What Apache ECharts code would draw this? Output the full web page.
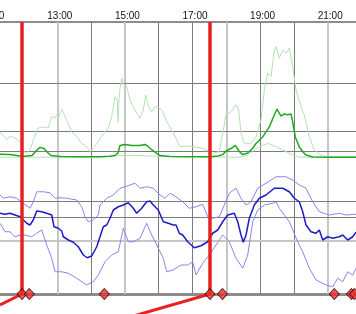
<!DOCTYPE html>
<html><head><meta charset="utf-8">
<script src="https://cdn.jsdelivr.net/npm/echarts@6/dist/echarts.min.js"></script>
<style>html,body{margin:0;padding:0;background:#fff;overflow:hidden}#c{width:356px;height:314px}</style>
</head><body><div id="c"></div>
<script>
// ---- data (hour of day, value) ----
const lightGridHours = [13, 15, 18, 21];
const darkGridHours = [14, 16, 17, 19, 20];
const greenGridValues = [5, 20, 57];
const blueGridValues = [37.3, 30.8];
const blueLightGridValues = [21.2];

const greenMean = [[11.305,2.5],[11.601,2.3],[11.897,1.2],[12.045,1.0],[12.252,1.5],[12.370,5.0],[12.488,7.8],[12.607,6.9],[12.696,4.2],[12.814,1.5],[13.080,0.8],[13.672,0.5],[14.264,0.5],[14.559,0.9],[14.707,1.5],[14.796,3.5],[14.855,9.2],[15.003,10.0],[15.210,9.2],[15.447,9.2],[15.595,10.0],[15.684,8.5],[15.802,5.8],[15.920,3.5],[16.039,1.5],[16.335,0.8],[16.926,0.6],[17.518,0.6],[17.755,1.2],[17.894,2.2],[17.992,5.0],[18.139,6.9],[18.267,9.4],[18.385,4.6],[18.486,2.2],[18.634,3.5],[18.761,6.5],[18.879,10.8],[19.077,15.8],[19.273,23.5],[19.382,30.4],[19.500,37.3],[19.619,31.9],[19.716,33.5],[19.817,32.9],[19.915,33.5],[19.965,27.3],[20.042,15.8],[20.160,8.1],[20.269,4.2],[20.358,1.9],[20.556,0.4],[21.068,0.2],[21.837,0.2]];

const greenMax = [[11.305,19.1],[11.394,17.3],[11.512,13.5],[11.601,16.5],[11.749,15.0],[11.897,12.2],[11.956,8.3],[11.994,4.5],[12.103,3.8],[12.192,5.8],[12.290,13.5],[12.438,22.7],[12.577,23.5],[12.725,22.7],[12.835,31.4],[12.932,30.4],[12.983,32.7],[13.030,30.4],[13.130,37.1],[13.278,28.8],[13.426,19.8],[13.574,16.0],[13.722,10.9],[13.870,8.3],[13.968,4.5],[14.065,7.1],[14.213,12.2],[14.361,18.6],[14.509,22.5],[14.610,31.4],[14.707,46.8],[14.775,44.2],[14.796,27.5],[14.826,44.2],[14.855,53.2],[14.906,60.9],[14.974,55.8],[15.054,54.5],[15.151,44.2],[15.249,39.1],[15.349,34.0],[15.447,30.2],[15.545,36.5],[15.616,48.1],[15.693,39.1],[15.793,35.2],[15.891,39.1],[15.988,38.6],[16.089,36.5],[16.237,27.5],[16.385,21.2],[16.533,13.5],[16.630,8.3],[16.778,8.8],[17.006,8.3],[17.302,7.1],[17.598,3.2],[17.793,4.5],[17.894,18.6],[17.992,32.7],[18.139,35.2],[18.287,40.4],[18.367,36.5],[18.435,18.6],[18.533,10.9],[18.731,10.9],[18.879,16.0],[19.027,28.8],[19.125,51.9],[19.225,64.8],[19.323,62.2],[19.420,82.7],[19.471,85.2],[19.568,76.3],[19.669,82.7],[19.767,80.2],[19.864,84.0],[19.965,69.8],[20.062,51.9],[20.211,39.1],[20.308,32.7],[20.456,16.0],[20.604,5.8],[20.752,2.5],[20.921,0.6],[21.837,0.5]];

const greenMin = [[11.305,0.2],[14.264,0.4],[14.855,1.5],[15.447,1.5],[16.039,0.8],[18.406,0.2],[18.634,1.9],[18.977,8.3],[19.225,10.9],[19.471,8.3],[19.767,4.5],[19.965,1.9],[20.180,0.2],[21.837,0.2]];

const blueMean = [[11.305,32.3],[11.453,31.9],[11.601,32.3],[11.749,31.6],[11.897,30.9],[11.994,29.6],[12.095,28.3],[12.192,27.6],[12.290,29.6],[12.391,33.2],[12.539,32.9],[12.687,32.3],[12.835,31.6],[12.903,26.9],[13.030,26.3],[13.130,25.2],[13.178,22.9],[13.326,21.6],[13.474,20.7],[13.622,18.9],[13.769,15.6],[13.888,14.5],[14.018,15.2],[14.166,18.9],[14.264,22.9],[14.361,26.9],[14.462,27.6],[14.559,30.3],[14.657,33.6],[14.805,34.9],[14.953,35.6],[15.101,36.5],[15.249,34.3],[15.349,32.3],[15.497,34.3],[15.645,36.9],[15.743,37.2],[15.841,35.6],[15.988,33.6],[16.136,28.9],[16.284,28.3],[16.432,27.6],[16.512,27.6],[16.610,24.3],[16.710,23.6],[16.858,20.9],[17.053,18.5],[17.252,19.3],[17.450,20.9],[17.598,24.3],[17.746,25.6],[17.894,28.9],[18.042,31.6],[18.237,32.3],[18.338,28.9],[18.435,23.6],[18.503,20.7],[18.583,23.6],[18.681,30.3],[18.829,35.6],[18.977,38.3],[19.175,39.6],[19.420,42.3],[19.669,42.3],[19.864,40.9],[20.012,38.3],[20.160,36.9],[20.261,32.9],[20.358,27.6],[20.506,24.9],[20.654,24.3],[20.752,25.6],[20.852,21.6],[21.000,22.9],[21.148,22.3],[21.344,22.9],[21.444,23.6],[21.592,21.6],[21.740,22.9],[21.837,24.7]];

const blueMax = [[11.305,39.6],[11.403,38.3],[11.601,38.9],[11.799,38.3],[11.994,36.3],[12.192,34.3],[12.290,36.9],[12.391,40.9],[12.586,40.9],[12.784,40.5],[12.932,38.3],[13.080,38.5],[13.278,38.3],[13.574,37.6],[13.722,34.9],[13.820,30.9],[13.917,28.9],[14.065,29.6],[14.213,31.6],[14.264,35.6],[14.462,38.3],[14.657,39.6],[14.855,42.3],[15.003,42.9],[15.151,43.6],[15.299,44.3],[15.447,42.3],[15.645,42.9],[15.841,42.3],[16.039,39.6],[16.187,38.3],[16.335,40.3],[16.512,38.9],[16.710,36.9],[16.906,34.3],[17.104,34.9],[17.302,35.9],[17.450,30.9],[17.598,30.3],[17.793,30.9],[17.941,35.6],[18.089,40.3],[18.287,42.3],[18.435,38.3],[18.583,35.6],[18.731,36.9],[18.929,42.3],[19.175,44.3],[19.471,46.9],[19.767,46.9],[19.965,45.6],[20.160,43.6],[20.358,42.3],[20.556,36.9],[20.752,32.9],[21.047,31.6],[21.344,32.3],[21.542,31.6],[21.837,31.9]];

const blueMin = [[11.305,28.3],[11.453,24.9],[11.601,24.9],[11.749,22.9],[11.897,23.6],[12.045,23.6],[12.243,22.9],[12.391,24.3],[12.539,25.6],[12.687,19.6],[12.835,14.3],[12.932,8.9],[13.130,8.9],[13.326,8.3],[13.574,6.3],[13.870,3.6],[14.065,4.9],[14.213,7.6],[14.412,12.9],[14.610,15.6],[14.805,16.9],[14.953,26.3],[15.101,20.9],[15.249,20.9],[15.447,22.3],[15.645,28.3],[15.793,23.6],[15.941,19.6],[16.136,14.3],[16.237,8.9],[16.432,9.6],[16.660,11.6],[16.858,11.6],[17.006,12.9],[17.104,7.6],[17.302,12.3],[17.497,15.6],[17.696,19.6],[17.894,23.6],[18.089,20.9],[18.287,14.3],[18.486,10.3],[18.634,15.6],[18.781,28.9],[18.929,33.6],[19.125,35.6],[19.373,36.3],[19.471,36.9],[19.568,34.3],[19.864,28.9],[20.113,20.9],[20.261,16.9],[20.456,10.3],[20.654,5.6],[20.950,3.6],[21.148,2.9],[21.296,6.3],[21.444,4.9],[21.592,8.9],[21.740,7.6],[21.837,10.3]];

const redEventHours = [11.956, 12.172, 14.391, 17.518, 17.888, 21.195, 21.704, 21.793];
const markerHours = [11.956, 17.518];
const redRampA = [[11.305,-4.4],[11.956,0]];
const redRampB = [[11.956,-21.6],[17.518,0]];

// ---- chart ----
const chart = echarts.init(document.getElementById('c'), null, {renderer: 'canvas'});
const lineS = (data, color, width, yIdx, z) => ({
  type: 'line', data, xAxisIndex: 0, yAxisIndex: yIdx, showSymbol: false, symbol: 'none',
  lineStyle: {color, width}, silent: true, z, animation: false
});
const vGrid = lightGridHours.map(h => ({xAxis: h, lineStyle: {color: '#c6c6c6', width: 2, type: 'solid'}}))
  .concat(darkGridHours.map(h => ({xAxis: h, lineStyle: {color: '#7c7c7c', width: 1, type: 'solid'}})));
const gGrid = greenGridValues.map(v => ({yAxis: v, lineStyle: {color: '#7c7c7c', width: 1, type: 'solid'}}));
const bGrid = blueGridValues.map(v => ({yAxis: v, lineStyle: {color: '#7c7c7c', width: 1, type: 'solid'}}))
  .concat(blueLightGridValues.map(v => ({yAxis: v, lineStyle: {color: '#c6c6c6', width: 2, type: 'solid'}})));

const gm = lineS(greenMin, '#b4e2b4', 1, 0, 2);
gm.markLine = {silent: true, symbol: 'none', z: 1, label: {show: false}, animation: false, data: vGrid.concat(gGrid)};
const bmx = lineS(blueMax, '#8686ee', 1, 1, 2);
bmx.markLine = {silent: true, symbol: 'none', z: 1, label: {show: false}, animation: false, data: bGrid};
const rA = lineS(redRampA, '#e82020', 3, 1, 6);
rA.clip = false;
rA.markLine = {silent: true, symbol: 'none', z: 6, label: {show: false}, animation: false,
  data: markerHours.map(h => ({xAxis: h})), lineStyle: {color: '#e82020', width: 3.5, type: 'solid'}};
const rB = lineS(redRampB, '#e82020', 3, 1, 6);
rB.clip = false;

chart.setOption({
  animation: false,
  grid: {left: -10.3, right: -5.5, top: 22, bottom: 20, containLabel: false, outerBoundsMode: 'none'},
  xAxis: [
    {type: 'value', position: 'top', min: 11, max: 22, interval: 1,
     axisLine: {onZero: false, lineStyle: {color: '#8c8c8c', width: 2}},
     axisTick: {show: false}, splitLine: {show: false},
     axisLabel: {formatter: v => (v % 2 === 1 ? v + ':00' : ''), fontSize: 10, color: '#111',
       fontFamily: 'Liberation Sans', margin: 1, padding: [0, 0, 0, 5]}},
    {type: 'value', position: 'bottom', min: 11, max: 22, interval: 1,
     axisLine: {onZero: false, lineStyle: {color: '#8c8c8c', width: 3}},
     axisTick: {show: false}, splitLine: {show: false}, axisLabel: {show: false}}
  ],
  yAxis: [
    {type: 'value', min: -105, max: 104.23, show: false},
    {type: 'value', min: 0, max: 108.8, show: false}
  ],
  series: [
    gm,
    lineS(greenMax, '#b4e2b4', 1, 0, 2),
    lineS(greenMean, '#1fa81f', 1.5, 0, 3),
    bmx,
    lineS(blueMin, '#8686ee', 1, 1, 2),
    lineS(blueMean, '#1c1cc4', 1.5, 1, 3),
    rA, rB,
    {type: 'scatter', xAxisIndex: 0, yAxisIndex: 1, data: redEventHours.map(h => [h, 0]),
     symbol: 'diamond', symbolSize: [10, 11], clip: false, silent: true, z: 10,
     itemStyle: {color: '#e8302a', borderColor: '#3a0000', borderWidth: 1}}
  ]
});
</script></body></html>
